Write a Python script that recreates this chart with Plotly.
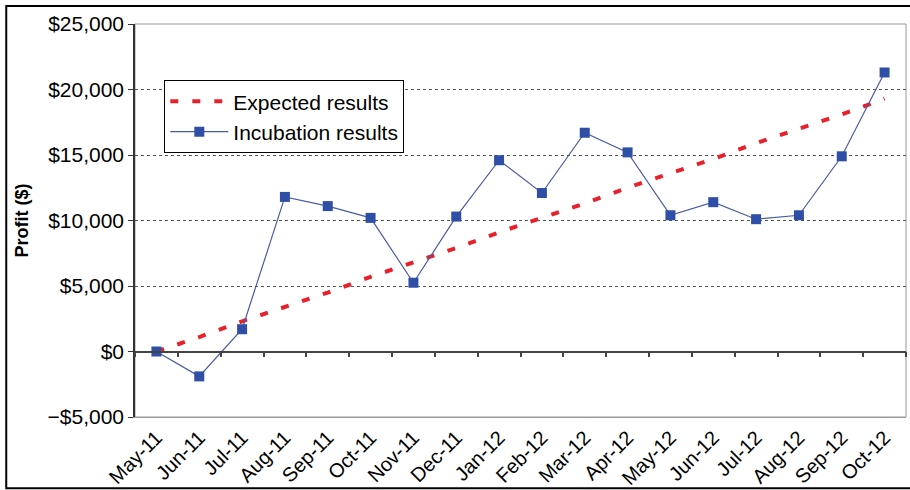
import plotly.graph_objects as go

# Données
months = ["May-11", "Jun-11", "Jul-11", "Aug-11", "Sep-11", "Oct-11", "Nov-11", "Dec-11",
          "Jan-12", "Feb-12", "Mar-12", "Apr-12", "May-12", "Jun-12", "Jul-12", "Aug-12",
          "Sep-12", "Oct-12"]
expected = [0, 1100, 2300, 3400, 4500, 5700, 6800, 7900, 9100, 10200, 11300, 12500,
            13600, 14700, 15900, 17000, 18100, 19300]
incubation = [0, -1900, 1700, 11800, 11100, 10200, 5250, 10300, 14600, 12100, 16700,
              15200, 10400, 11400, 10100, 10400, 14900, 21300]
y_ticks = [-5000, 0, 5000, 10000, 15000, 20000, 25000]
y_labels = ["\u2212$5,000", "$0", "$5,000", "$10,000", "$15,000", "$20,000", "$25,000"]

FONT = "Liberation Sans, Arial, sans-serif"

fig = go.Figure()

fig.add_trace(go.Scatter(
    x=months, y=expected, name="Expected results", mode="lines",
    line=dict(color="#e8202a", width=4, dash="8px,14px"),
))
fig.add_trace(go.Scatter(
    x=months, y=incubation, name="Incubation results", mode="lines+markers",
    line=dict(color="#4a5aa8", width=1.2),
    marker=dict(symbol="square", size=10, color="#2f4fa6"),
))
# trace invisible pour afficher l'axe du zéro avec ses graduations
fig.add_trace(go.Scatter(
    x=months, y=[None] * len(months), xaxis="x2", showlegend=False,
    hoverinfo="skip", mode="lines",
))

fig.update_layout(
    width=910, height=490,
    margin=dict(l=135, r=4, t=24, b=73),
    plot_bgcolor="white", paper_bgcolor="white",
    font=dict(family=FONT, size=20, color="black"),
    showlegend=True,
    legend=dict(
        x=0.038, y=0.857, xanchor="left", yanchor="top",
        bgcolor="white", bordercolor="black", borderwidth=1,
        font=dict(size=21), tracegroupgap=0, itemwidth=58,
    ),
    xaxis=dict(
        type="category", range=[-0.5, 17.5], automargin=False,
        showline=True, linecolor="#999999", linewidth=1,
        showgrid=False, ticks="", tickangle=-45,
        tickfont=dict(size=20),
    ),
    xaxis2=dict(
        type="category", range=[-0.5, 17.5], overlaying="x",
        anchor="free", position=1 / 6, automargin=False,
        showline=True, linecolor="#444444", linewidth=1.5,
        showgrid=False, showticklabels=False,
        ticks="outside", tickson="boundaries", ticklen=5,
        tickcolor="#444444", tickwidth=1.5,
    ),
    yaxis=dict(
        range=[-5000, 25000], tickvals=y_ticks, ticktext=y_labels, automargin=False,
        showline=True, linecolor="#333333", linewidth=1.5,
        ticks="outside", ticklen=5, tickcolor="#333333",
        showgrid=True, gridcolor="#555555", griddash="dot", gridwidth=1,
        zeroline=False, tickfont=dict(size=21),
        title=dict(text="<b>Profit ($)</b>", font=dict(size=18), standoff=14),
    ),
    shapes=[
        # bordure grise de la zone de tracé
        dict(type="rect", xref="paper", yref="paper", x0=0, y0=0, x1=1, y1=1,
             line=dict(color="#999999", width=1), layer="below"),
        # cadre noir de l'image
        dict(type="rect", xref="paper", yref="paper", x0=-0.167, y0=-0.181, x1=1.01, y1=1.046,
             line=dict(color="black", width=2), layer="below"),
    ],
)

# pas de marge de page autour du graphique
fig.write_html("out.html", config={"displayModeBar": False},
               post_script="document.body.style.margin='0';")
